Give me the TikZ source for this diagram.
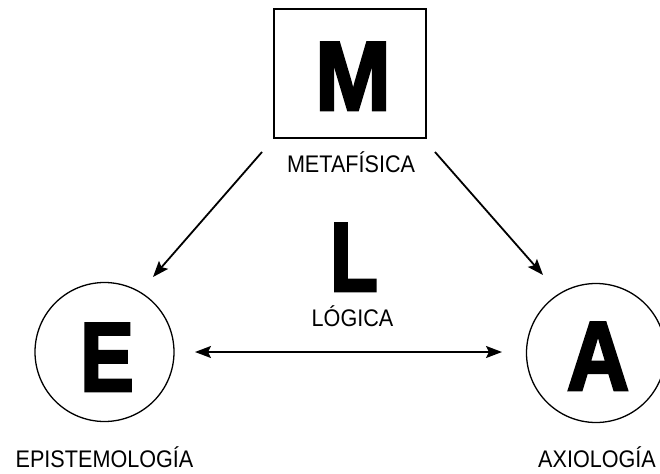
\documentclass[tikz,border=0pt]{standalone}
\usepackage{fontspec}
\usepackage{graphicx}
\usetikzlibrary{arrows.meta}
\newfontfamily\lab{Liberation Sans}[FakeStretch=0.9]
\newfontfamily\heavy{Liberation Sans}[BoldFeatures={FakeBold=3}]
\begin{document}
\begin{tikzpicture}[x=1pt,y=-1pt,
  lbl/.style={font=\lab\fontsize{24}{24}\selectfont, anchor=base, inner sep=0pt},
  big/.style={font=\heavy\bfseries\fontsize{98}{98}\selectfont, anchor=base, inner sep=0pt, text depth=0pt},
  conn/.style={line width=1.8pt, -{Stealth[length=16pt,width=12pt,inset=3pt]}},
  ring/.style={draw, circle, line width=1.3pt, minimum size=139pt, inner sep=0pt}
]
\useasboundingbox (0,0) rectangle (660,473);
% box and circles
\node[draw, line width=1.4pt, minimum width=152pt, minimum height=129pt, inner sep=0pt] (Mbox) at (350,73.5) {};
\node[ring] (Ecirc) at (104.5,352) {};
\node[ring] (Acirc) at (596,353) {};
% big letters
\node[big] (M) at (353,110) {\scalebox{0.93}[1]{M}};
\node[big] (L) at (354,291) {\scalebox{0.8}[1]{L}};
\node[big] (E) at (107,391) {\scalebox{0.82}[1]{E}};
\node[big] (A) at (598,390) {\scalebox{0.88}[1]{A}};
% labels
\node[lbl] (met) at (351,172) {METAFÍSICA};
\node[lbl] (log) at (352.5,326) {LÓGICA};
\node[lbl] (epi) at (104.5,467) {EPISTEMOLOGÍA};
\node[lbl] (axi) at (597,467) {AXIOLOGÍA};
% connector ends
\coordinate (m1) at (262,152);
\coordinate (e1) at (153,277);
\coordinate (m2) at (435,152);
\coordinate (a1) at (543,275);
\coordinate (e2) at (195,352);
\coordinate (a2) at (502,352);
\draw[conn] (m1) -- (e1);
\draw[conn] (m2) -- (a1);
\draw[conn, {Stealth[length=16pt,width=12pt,inset=3pt]}-{Stealth[length=16pt,width=12pt,inset=3pt]}] (e2) -- (a2);
\end{tikzpicture}
\end{document}
